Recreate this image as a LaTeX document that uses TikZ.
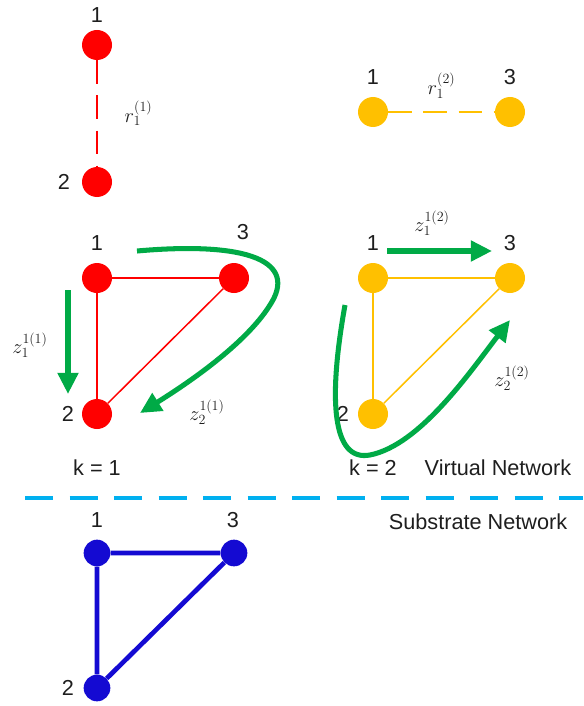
\documentclass[tikz,border=0pt]{standalone}
\usepackage{fontspec}
\setmainfont{Liberation Sans}
\usetikzlibrary{arrows.meta}
\definecolor{ink}{RGB}{30,30,30}
\definecolor{vred}{RGB}{255,0,0}
\definecolor{vyellow}{RGB}{255,192,0}
\definecolor{sblue}{RGB}{20,10,210}
\definecolor{pathgreen}{RGB}{0,170,70}
\definecolor{cutcyan}{RGB}{0,176,240}
\tikzset{
  every picture/.style={color=ink, font=\fontsize{18.5}{22}\selectfont},
  vnode/.style={circle, minimum size=0.9cm, inner sep=0pt},
  rednode/.style={vnode, fill=vred},
  yelnode/.style={vnode, fill=vyellow},
  subnode/.style={circle, minimum size=0.8cm, inner sep=0pt, fill=sblue},
  num/.style={inner sep=1pt, text=ink},
  redlink/.style={line width=1.3pt, color=vred},
  yellink/.style={line width=1.3pt, color=vyellow},
  req/.style={dash pattern=on 20pt off 10pt},
  slink/.style={line width=4pt, color=sblue},
  route/.style={-{Triangle[length=18pt,width=17pt]}, line width=4.3pt, color=pathgreen},
  var/.style={font=\fontsize{18}{20}\selectfont, inner sep=1pt, text=ink},
  cut/.style={line width=3.5pt, color=cutcyan, dash pattern=on 24pt off 14pt},
}

\begin{document}
\begin{tikzpicture}[x=0.03cm, y=-0.03cm]
  \useasboundingbox (0,0) rectangle (583,706);
  % request k = 1
  \node[rednode] (ra1) at (97,45) {};
  \node[rednode] (ra2) at (97,182) {};
  \node[num] (ra1l) at (97,15) {1};
  \node[num] (ra2l) at (64,182) {2};
  \draw[redlink, req] (ra1) -- (ra2) node[var, midway, right=22pt] {$r_1^{(1)}$};
  % request k = 2
  \node[yelnode] (ya1) at (373,112) {};
  \node[yelnode] (ya3) at (510,112) {};
  \node[num] (ya1l) at (373,77) {1};
  \node[num] (ya3l) at (510,77) {3};
  \draw[yellink, req] (ya1) -- (ya3) node[var, midway, above=10pt] {$r_1^{(2)}$};
  % virtual network k = 1
  \node[rednode] (rb1) at (97,278) {};
  \node[rednode] (rb3) at (234,278) {};
  \node[rednode] (rb2) at (97,414) {};
  \node[num] (rb1l) at (97,243) {1};
  \node[num] (rb3l) at (243,232) {3};
  \node[num] (rb2l) at (68,414) {2};
  \draw[redlink] (rb1) -- (rb3) -- (rb2) -- (rb1);
  \coordinate (pa) at (68,290);
  \coordinate (pb) at (68,394);
  \draw[route] (pa) -- (pb);
  \node[var] (za) at (30,345) {$z_1^{1(1)}$};
  \coordinate (qa) at (137,251);
  \coordinate (qb) at (140,413);
  \draw[route] (qa) .. controls (250,241) and (298,262) .. (270,305)
    .. controls (245,345) and (185,385) .. (qb);
  \node[var] (zb) at (207,412) {$z_2^{1(1)}$};
  \node[num] (k1) at (97,468) {k = 1};
  % virtual network k = 2
  \node[yelnode] (yb1) at (373,278) {};
  \node[yelnode] (yb3) at (510,278) {};
  \node[yelnode] (yb2) at (373,414) {};
  \node[num] (yb1l) at (373,243) {1};
  \node[num] (yb3l) at (510,243) {3};
  \node[num] (yb2l) at (343,414) {2};
  \draw[yellink] (yb1) -- (yb3) -- (yb2) -- (yb1);
  \coordinate (sa) at (387,251);
  \coordinate (sb) at (492,251);
  \draw[route] (sa) -- (sb);
  \node[var] (zc) at (432,223) {$z_1^{1(2)}$};
  \coordinate (ta) at (345,305);
  \coordinate (tb) at (510,320);
  \draw[route] (ta) .. controls (328,400) and (332,462) .. (370,455)
    .. controls (420,445) and (470,372) .. (tb);
  \node[var] (zd) at (512,378) {$z_2^{1(2)}$};
  \node[num] (k2) at (373,468) {k = 2};
  \node[num] (vn) at (498,468) {Virtual Network};
  % cut between layers
  \coordinate (ca) at (25,498);
  \coordinate (cb) at (583,498);
  \draw[cut] (ca) -- (cb);
  \node[num] (sn) at (478,522) {Substrate Network};
  % substrate network
  \node[subnode] (s1) at (97,553) {};
  \node[subnode] (s3) at (234,553) {};
  \node[subnode] (s2) at (97,688) {};
  \node[num] (s1l) at (97,520) {1};
  \node[num] (s3l) at (233,520) {3};
  \node[num] (s2l) at (68,688) {2};
  \draw[slink] (s1) -- (s3) -- (s2) -- (s1);
\end{tikzpicture}
\end{document}
